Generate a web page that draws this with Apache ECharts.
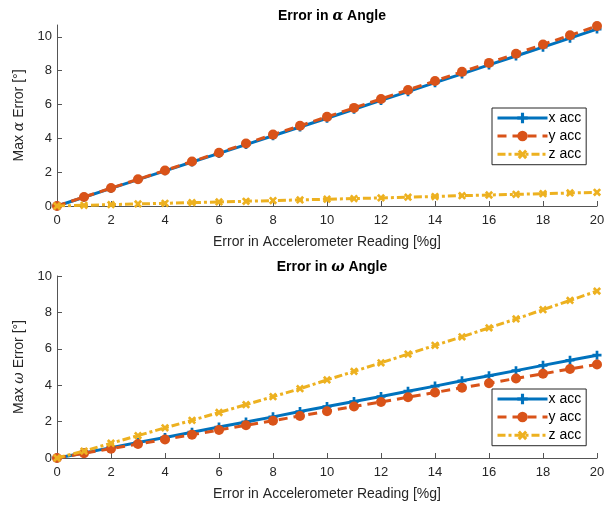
<!DOCTYPE html>
<html>
<head>
<meta charset="utf-8">
<script src="https://cdn.jsdelivr.net/npm/echarts@6/dist/echarts.min.js"></script>
<style>
  html, body { margin: 0; padding: 0; background: #fff; }
  #chart { width: 616px; height: 508px; }
</style>
</head>
<body>
<div id="chart"></div>
<script>
// error in accelerometer reading [%g]
var errPct = [0, 1, 2, 3, 4, 5, 6, 7, 8, 9, 10, 11, 12, 13, 14, 15, 16, 17, 18, 19, 20];

// max alpha error [deg]
var alphaX = [0, 0.52, 1.04, 1.56, 2.08, 2.60, 3.11, 3.63, 4.15, 4.67, 5.19, 5.72, 6.24, 6.76, 7.29, 7.81, 8.34, 8.87, 9.39, 9.92, 10.46];
var alphaY = [0, 0.53, 1.06, 1.58, 2.10, 2.63, 3.15, 3.69, 4.22, 4.74, 5.27, 5.80, 6.33, 6.86, 7.39, 7.93, 8.46, 9.00, 9.55, 10.09, 10.64];
var alphaZ = [0, 0.04, 0.08, 0.12, 0.16, 0.20, 0.24, 0.28, 0.32, 0.36, 0.40, 0.44, 0.48, 0.52, 0.56, 0.61, 0.65, 0.69, 0.73, 0.77, 0.81];

// max omega error [deg]
var omegaX = [0, 0.28, 0.57, 0.85, 1.13, 1.42, 1.70, 1.98, 2.26, 2.55, 2.83, 3.10, 3.38, 3.67, 3.95, 4.24, 4.52, 4.80, 5.09, 5.37, 5.65];
var omegaY = [0, 0.26, 0.51, 0.77, 1.02, 1.28, 1.54, 1.80, 2.05, 2.31, 2.57, 2.83, 3.08, 3.34, 3.60, 3.86, 4.11, 4.37, 4.63, 4.89, 5.14];
var omegaZ = [0, 0.38, 0.81, 1.23, 1.66, 2.07, 2.50, 2.93, 3.37, 3.81, 4.29, 4.76, 5.23, 5.71, 6.19, 6.66, 7.15, 7.64, 8.15, 8.66, 9.17];

var xTicks = [0, 2, 4, 6, 8, 10, 12, 14, 16, 18, 20];
var names = ['x acc', 'y acc', 'z acc'];

var COLORS = ['#0072BD', '#D95319', '#EDB120'];
var FONT = '"Liberation Sans", Arial, sans-serif';
var AXIS_COLOR = '#555555';
var TEXT_COLOR = '#262626';
var PLUS = 'path://M3.5,0H6.5V3.5H10V6.5H6.5V10H3.5V6.5H0V3.5H3.5Z';

var greek = {
    t: { fontFamily: FONT, fontSize: 14, color: TEXT_COLOR },
    g: { fontFamily: '"DejaVu Serif", serif', fontStyle: 'italic', fontSize: 14, color: TEXT_COLOR }
};
var greekBold = {
    t: { fontFamily: FONT, fontSize: 14, fontWeight: 'bold', color: '#000' },
    g: { fontFamily: '"DejaVu Serif", serif', fontStyle: 'italic', fontSize: 14, color: '#000' }
};

function pairs(ys){
    return errPct.map(function(x, i){ return [x, ys[i]]; });
}

function makeSeries(idx, ys, axisIdx){
    var base = {
        name: names[idx],
        type: 'line',
        xAxisIndex: axisIdx,
        yAxisIndex: axisIdx,
        data: pairs(ys),
        color: COLORS[idx],
        showSymbol: true,
        animation: false,
        z: 2 + idx
    };
    if(idx === 0){
        base.symbol = PLUS;
        base.symbolSize = 9;
        base.lineStyle = { width: 3, type: 'solid' };
    } else if(idx === 1){
        base.symbol = 'circle';
        base.symbolSize = 10;
        base.lineStyle = { width: 3, type: [9, 6] };
    } else {
        base.symbol = PLUS;
        base.symbolSize = 9;
        base.symbolRotate = 45;
        base.lineStyle = { width: 3, type: [8, 3, 3, 3] };
    }
    base.itemStyle = { color: COLORS[idx], borderWidth: 0 };
    return base;
}

function xAxisCfg(gridIdx, nameGap){
    return {
        type: 'value',
        gridIndex: gridIdx,
        min: 0, max: 20, interval: 2,
        name: 'Error in Accelerometer Reading [%g]',
        nameLocation: 'middle',
        nameGap: nameGap,
        nameTextStyle: { fontFamily: FONT, fontSize: 14, color: TEXT_COLOR },
        axisLine: { show: true, lineStyle: { color: AXIS_COLOR, width: 1 } },
        axisTick: { show: true, inside: true, length: 5, lineStyle: { color: AXIS_COLOR } },
        axisLabel: {
            margin: 8, fontFamily: FONT, fontSize: 13, color: TEXT_COLOR,
            formatter: function(v){ return xTicks.indexOf(v) >= 0 ? String(v) : ''; }
        },
        splitLine: { show: false }
    };
}

function yAxisCfg(gridIdx, max, label){
    return {
        type: 'value',
        gridIndex: gridIdx,
        min: 0, max: max, interval: 2,
        name: label,
        nameLocation: 'middle',
        nameGap: 27,
        nameRotate: 90,
        nameTextStyle: { rich: greek },
        axisLine: { show: true, lineStyle: { color: AXIS_COLOR, width: 1 } },
        axisTick: { show: true, inside: true, length: 5, lineStyle: { color: AXIS_COLOR } },
        axisLabel: {
            margin: 5, fontFamily: FONT, fontSize: 13, color: TEXT_COLOR,
            showMaxLabel: max === 10,
            formatter: function(v){ return v % 2 === 0 ? String(v) : ''; }
        },
        splitLine: { show: false }
    };
}

function legendCfg(top){
    return {
        orient: 'vertical',
        left: 492,
        top: top,
        data: names,
        itemWidth: 50,
        itemHeight: 13,
        itemGap: 4,
        padding: [3, 5, 3, 4],
        backgroundColor: '#fff',
        borderColor: '#262626',
        borderWidth: 1,
        borderRadius: 0,
        selectedMode: false,
        lineStyle: { width: 3 },
        textStyle: { fontFamily: FONT, fontSize: 14, color: '#000', padding: [0, 0, 0, -4] }
    };
}

var chart = echarts.init(document.getElementById('chart'), null, { renderer: 'canvas' });

chart.setOption({
    backgroundColor: '#fff',
    animation: false,
    title: [
        {
            text: '{t|Error in }{g|α}{t| Angle}',
            left: 327, top: 4, textAlign: 'center',
            textStyle: { rich: greekBold }
        },
        {
            text: '{t|Error in }{g|ω}{t| Angle}',
            left: 327, top: 255, textAlign: 'center',
            textStyle: { rich: greekBold }
        }
    ],
    legend: [legendCfg(108), legendCfg(389)],
    grid: [
        { left: 57, right: 19, top: 25, height: 181, containLabel: false },
        { left: 57, right: 19, top: 276, height: 182, containLabel: false }
    ],
    xAxis: [xAxisCfg(0, 29), xAxisCfg(1, 29)],
    yAxis: [
        yAxisCfg(0, 10.7, '{t|Max }{g|α}{t| Error [°]}'),
        yAxisCfg(1, 10, '{t|Max }{g|ω}{t| Error [°]}')
    ],
    series: [
        makeSeries(0, alphaX, 0),
        makeSeries(1, alphaY, 0),
        makeSeries(2, alphaZ, 0),
        makeSeries(0, omegaX, 1),
        makeSeries(1, omegaY, 1),
        makeSeries(2, omegaZ, 1)
    ]
});
</script>
</body>
</html>
